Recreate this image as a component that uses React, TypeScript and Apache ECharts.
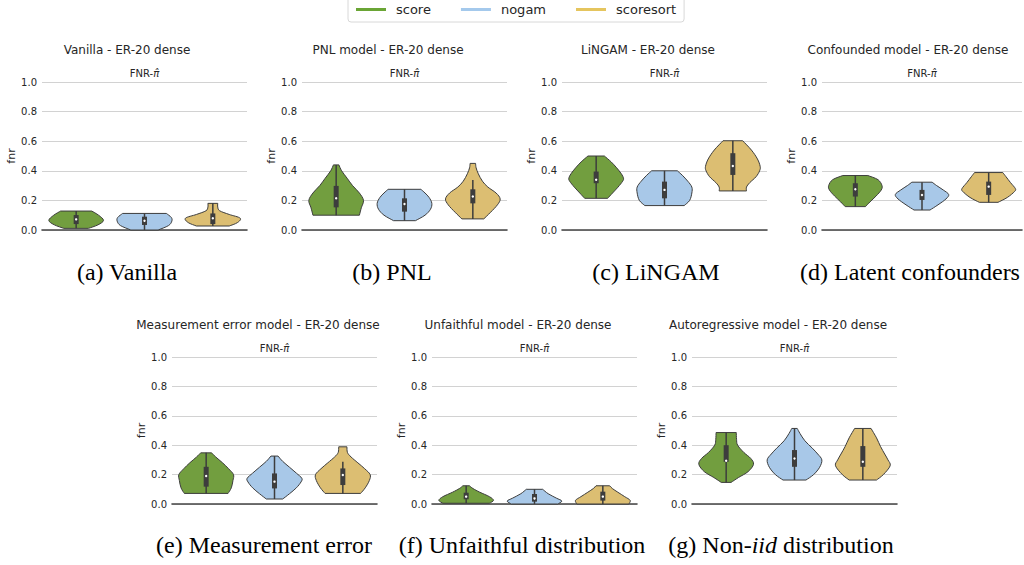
import React, { useEffect, useRef } from "react";
import * as echarts from "echarts";

const methods = ["score", "nogam", "scoresort"];
const legendColors = ["#6aa535", "#a4c9ec", "#e5c55e"];
const fillColors = ["#729e3f", "#a8c8e8", "#dcbe72"];
const edgeColor = "#3d3d3d";

const panelTitles = [
  "Vanilla - ER-20 dense",
  "PNL model - ER-20 dense",
  "LiNGAM - ER-20 dense",
  "Confounded model - ER-20 dense",
  "Measurement error model - ER-20 dense",
  "Unfaithful model - ER-20 dense",
  "Autoregressive model - ER-20 dense",
];
const captions = [
  "(a) Vanilla",
  "(b) PNL",
  "(c) LiNGAM",
  "(d) Latent confounders",
  "(e) Measurement error",
  "(f) Unfaithful distribution",
  "(g) Non-{i|iid} distribution",
];
const yTicks = [0, 0.2, 0.4, 0.6, 0.8, 1.0];

// box: [whiskerLow, q1, median, q3, whiskerHigh]; density: [fnr, relative half-width]
const vanilla = [
  { box: [0.011, 0.04, 0.072, 0.101, 0.128], density: [[0.011, 0.45], [0.035, 0.8], [0.065, 1.0], [0.1, 0.82], [0.128, 0.57]] },
  { box: [0.0, 0.034, 0.063, 0.09, 0.112], density: [[0.0, 0.5], [0.03, 0.88], [0.06, 1.0], [0.085, 0.98], [0.112, 0.8]] },
  { box: [0.027, 0.04, 0.079, 0.112, 0.18], density: [[0.027, 0.6], [0.05, 0.9], [0.08, 1.0], [0.105, 0.6], [0.13, 0.25], [0.155, 0.18], [0.18, 0.18]] },
];
const pnl = [
  { box: [0.1, 0.153, 0.214, 0.298, 0.44], density: [[0.1, 0.85], [0.15, 0.92], [0.2, 1.0], [0.25, 0.85], [0.3, 0.6], [0.35, 0.4], [0.4, 0.2], [0.44, 0.1]] },
  { box: [0.063, 0.124, 0.176, 0.214, 0.275], density: [[0.063, 0.4], [0.1, 0.75], [0.14, 0.95], [0.18, 1.0], [0.22, 0.9], [0.25, 0.75], [0.275, 0.6]] },
  { box: [0.075, 0.18, 0.226, 0.275, 0.338], density: [[0.075, 0.4], [0.12, 0.65], [0.17, 0.9], [0.21, 1.0], [0.25, 0.85], [0.29, 0.55], [0.33, 0.35], [0.38, 0.2], [0.42, 0.12], [0.45, 0.1]] },
];
const lingam = [
  { box: [0.214, 0.316, 0.339, 0.395, 0.5], density: [[0.214, 0.42], [0.25, 0.6], [0.29, 0.8], [0.33, 0.97], [0.35, 1.0], [0.38, 0.92], [0.42, 0.75], [0.46, 0.55], [0.5, 0.3]] },
  { box: [0.165, 0.214, 0.271, 0.327, 0.4], density: [[0.165, 0.72], [0.2, 0.92], [0.25, 1.0], [0.29, 1.0], [0.33, 0.85], [0.37, 0.65], [0.4, 0.47]] },
  { box: [0.264, 0.372, 0.433, 0.519, 0.603], density: [[0.264, 0.5], [0.29, 0.5], [0.32, 0.62], [0.36, 0.85], [0.4, 0.98], [0.43, 1.0], [0.48, 0.9], [0.54, 0.68], [0.603, 0.36]] },
];
const confounded = [
  { box: [0.158, 0.226, 0.275, 0.316, 0.368], density: [[0.158, 0.38], [0.19, 0.55], [0.23, 0.78], [0.27, 0.97], [0.3, 1.0], [0.34, 0.85], [0.368, 0.47]] },
  { box: [0.135, 0.203, 0.237, 0.271, 0.323], density: [[0.135, 0.3], [0.17, 0.6], [0.21, 0.9], [0.24, 1.0], [0.27, 0.8], [0.3, 0.55], [0.323, 0.38]] },
  { box: [0.187, 0.237, 0.293, 0.327, 0.388], density: [[0.187, 0.35], [0.22, 0.7], [0.26, 0.97], [0.28, 1.0], [0.32, 0.82], [0.36, 0.65], [0.388, 0.53]] },
];
const measurement = [
  { box: [0.072, 0.118, 0.19, 0.253, 0.348], density: [[0.072, 0.8], [0.11, 0.92], [0.16, 0.98], [0.2, 1.0], [0.24, 0.82], [0.28, 0.6], [0.32, 0.35], [0.348, 0.2]] },
  { box: [0.034, 0.106, 0.152, 0.208, 0.326], density: [[0.034, 0.3], [0.07, 0.55], [0.11, 0.8], [0.15, 0.97], [0.175, 1.0], [0.21, 0.8], [0.25, 0.55], [0.29, 0.3], [0.326, 0.13]] },
  { box: [0.072, 0.129, 0.197, 0.242, 0.287], density: [[0.072, 0.65], [0.11, 0.82], [0.16, 0.97], [0.2, 1.0], [0.24, 0.8], [0.28, 0.55], [0.32, 0.3], [0.35, 0.17], [0.389, 0.15]] },
];
const unfaithful = [
  { box: [0.005, 0.032, 0.05, 0.077, 0.124], density: [[0.005, 0.85], [0.025, 1.0], [0.05, 0.85], [0.08, 0.5], [0.105, 0.25], [0.124, 0.12]] },
  { box: [0.0, 0.016, 0.038, 0.068, 0.1], density: [[0.0, 0.85], [0.02, 1.0], [0.04, 0.8], [0.07, 0.5], [0.1, 0.3]] },
  { box: [0.0, 0.023, 0.05, 0.084, 0.124], density: [[0.0, 0.95], [0.025, 1.0], [0.05, 0.8], [0.08, 0.55], [0.105, 0.35], [0.124, 0.25]] },
];
const autoregressive = [
  { box: [0.147, 0.287, 0.294, 0.4, 0.486], density: [[0.147, 0.18], [0.18, 0.45], [0.22, 0.8], [0.27, 1.0], [0.31, 0.9], [0.35, 0.65], [0.4, 0.42], [0.44, 0.38], [0.486, 0.37]] },
  { box: [0.163, 0.253, 0.31, 0.367, 0.514], density: [[0.163, 0.42], [0.2, 0.7], [0.25, 0.92], [0.3, 1.0], [0.34, 0.85], [0.38, 0.65], [0.43, 0.38], [0.48, 0.2], [0.514, 0.1]] },
  { box: [0.163, 0.253, 0.287, 0.394, 0.514], density: [[0.163, 0.5], [0.2, 0.75], [0.26, 1.0], [0.3, 0.92], [0.34, 0.8], [0.39, 0.65], [0.45, 0.5], [0.514, 0.3]] },
];
const panelData = [vanilla, pnl, lingam, confounded, measurement, unfaithful, autoregressive];

// layout
const gridRects = [
  { left: 42, top: 82, width: 205, height: 148 },
  { left: 302, top: 82, width: 205, height: 148 },
  { left: 562, top: 82, width: 205, height: 148 },
  { left: 822, top: 82, width: 200, height: 148 },
  { left: 172, top: 357, width: 205, height: 147 },
  { left: 432, top: 357, width: 205, height: 147 },
  { left: 692, top: 357, width: 205, height: 147 },
];
const titleCenters = [[127, 50], [388, 50], [648, 50], [908, 50], [258, 325], [518, 325], [778, 325]];
const captionCenters = [[127, 272], [392, 272], [656, 272], [910, 272], [264, 545], [522, 545], [781, 545]];

function splinePath(pts: number[][]): string {
  let d = "";
  for (let i = 0; i < pts.length - 1; i++) {
    const p0 = pts[i - 1] || pts[i];
    const p1 = pts[i];
    const p2 = pts[i + 1];
    const p3 = pts[i + 2] || p2;
    const c1x = p1[0] + (p2[0] - p0[0]) / 6;
    const c1y = p1[1] + (p2[1] - p0[1]) / 6;
    const c2x = p2[0] - (p3[0] - p1[0]) / 6;
    const c2y = p2[1] - (p3[1] - p1[1]) / 6;
    d += ` C ${c1x} ${c1y} ${c2x} ${c2y} ${p2[0]} ${p2[1]}`;
  }
  return d;
}

function makeRenderItem(v: { box: number[]; density: number[][] }, m: number) {
  return (params: any, api: any) => {
    const cat = api.value(0);
    const band = api.size([1, 0])[0];
    const hw = band * 0.4;
    const cx = api.coord([cat, 0])[0];
    const right = v.density.map(([y, w]) => [cx + w * hw, api.coord([cat, y])[1]]);
    const left = right.map((p) => [2 * cx - p[0], p[1]]).reverse();
    const d =
      `M ${right[0][0]} ${right[0][1]}` +
      splinePath(right) +
      ` L ${left[0][0]} ${left[0][1]}` +
      splinePath(left) +
      " Z";
    const [lo, q1, med, q3, hi] = v.box;
    const yLo = api.coord([cat, lo])[1];
    const yHi = api.coord([cat, hi])[1];
    const yQ1 = api.coord([cat, q1])[1];
    const yQ3 = api.coord([cat, q3])[1];
    const yMed = api.coord([cat, med])[1];
    return {
      type: "group",
      children: [
        {
          type: "path",
          shape: { pathData: d },
          style: { fill: fillColors[m], stroke: edgeColor, lineWidth: 1 },
        },
        {
          type: "line",
          shape: { x1: cx, y1: yLo, x2: cx, y2: yHi },
          style: { stroke: edgeColor, lineWidth: 1.5 },
        },
        {
          type: "rect",
          shape: { x: cx - 2.5, y: yQ3, width: 5, height: yQ1 - yQ3 },
          style: { fill: edgeColor },
        },
        {
          type: "circle",
          shape: { cx: cx, cy: yMed, r: 1.2 },
          style: { fill: "#ffffff" },
        },
      ],
    };
  };
}

export default function App() {
  const ref = useRef<HTMLDivElement>(null);
  useEffect(() => {
    if (!ref.current) return;
    const chart = echarts.init(ref.current, null, { renderer: "svg" });
    const textColor = "#262626";
    const font = "DejaVu Sans";

    const grid = gridRects.map((g) => ({ ...g, containLabel: false }));
    const xAxis = gridRects.map((_, i) => ({
      type: "category",
      gridIndex: i,
      data: methods,
      boundaryGap: true,
      axisLine: { show: true, onZero: false, lineStyle: { color: "#444444", width: 1.6 } },
      axisTick: { show: false },
      axisLabel: { show: false },
      splitLine: { show: false },
    }));
    const yAxis = gridRects.map((_, i) => ({
      type: "value",
      gridIndex: i,
      min: 0,
      max: 1,
      interval: 0.2,
      name: "fnr",
      nameLocation: "middle",
      nameGap: 24,
      nameTextStyle: { fontSize: 11, color: textColor, fontFamily: font },
      axisLine: { show: false },
      axisTick: { show: false },
      axisLabel: {
        fontSize: 10,
        color: textColor,
        fontFamily: font,
        margin: 5,
        formatter: (val: number) => {
          const t = yTicks.find((k) => Math.abs(k - val) < 1e-6);
          return (t === undefined ? val : t).toFixed(1);
        },
      },
      splitLine: { show: true, lineStyle: { color: "#d2d2d2", width: 1 } },
    }));

    const series: any[] = [];
    panelData.forEach((violins, p) => {
      violins.forEach((v, m) => {
        series.push({
          type: "custom",
          name: methods[m],
          xAxisIndex: p,
          yAxisIndex: p,
          itemStyle: { color: legendColors[m] },
          data: [[m]],
          clip: false,
          renderItem: makeRenderItem(v, m),
        });
      });
    });

    const graphics: any[] = [];
    panelTitles.forEach((t, i) => {
      graphics.push({
        type: "text",
        x: titleCenters[i][0],
        y: titleCenters[i][1],
        style: {
          text: t,
          fontSize: 12,
          fontFamily: font,
          fill: textColor,
          align: "center",
          verticalAlign: "middle",
          textAlign: "center",
          textVerticalAlign: "middle",
        },
      });
      const g = gridRects[i];
      graphics.push({
        type: "text",
        x: g.left + g.width / 2,
        y: g.top - 9,
        style: {
          text: "FNR-{i|π̂}",
          fontSize: 10,
          fontFamily: font,
          fill: textColor,
          align: "center",
          verticalAlign: "middle",
          textAlign: "center",
          textVerticalAlign: "middle",
          rich: { i: { fontSize: 10, fontStyle: "italic", fontFamily: font, fill: textColor, color: textColor } },
        },
      });
      graphics.push({
        type: "text",
        x: captionCenters[i][0],
        y: captionCenters[i][1],
        style: {
          text: captions[i],
          fontSize: 24,
          fontFamily: "Liberation Serif",
          fill: "#000000",
          align: "center",
          verticalAlign: "middle",
          textAlign: "center",
          textVerticalAlign: "middle",
          rich: { i: { fontSize: 24, fontStyle: "italic", fontFamily: "Liberation Serif", fill: "#000000", color: "#000000" } },
        },
      });
    });

    chart.setOption({
      animation: false,
      backgroundColor: "#ffffff",
      legend: {
        data: methods,
        left: 348,
        top: -3,
        icon: "rect",
        itemWidth: 30,
        itemHeight: 3,
        itemGap: 30,
        padding: [6, 8, 6, 8],
        borderColor: "#d8d8d8",
        borderWidth: 1,
        borderRadius: 3,
        textStyle: { fontSize: 13, color: textColor, fontFamily: font, padding: [0, 0, 0, 5] },
      },
      grid,
      xAxis,
      yAxis,
      series,
      graphic: { elements: graphics },
    });
    return () => chart.dispose();
  }, []);
  return (
    <div
      ref={ref}
      style={{ position: "fixed", left: 0, top: 0, width: 1024, height: 565, background: "#ffffff" }}
    />
  );
}
